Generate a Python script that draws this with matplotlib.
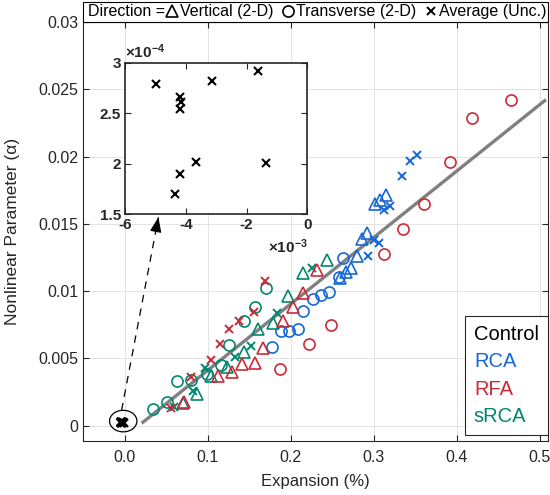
import numpy as np
import matplotlib
matplotlib.use('Agg')
import matplotlib.pyplot as plt
from matplotlib.lines import Line2D
from matplotlib.patches import Ellipse, Rectangle
from matplotlib.ticker import FuncFormatter

plt.rcParams['font.family'] = 'Liberation Sans'
plt.rcParams['axes.unicode_minus'] = False
plt.rcParams['mathtext.fontset'] = 'custom'
plt.rcParams['mathtext.rm'] = 'Liberation Sans'
plt.rcParams['mathtext.bf'] = 'Liberation Sans:bold'

# Expansion (%) / nonlinear parameter
# RCA
rca_vert_x = [0.2594, 0.2663, 0.2723, 0.2795, 0.2864, 0.2924, 0.3016, 0.3076, 0.3145]
rca_vert_y = [0.01094, 0.01143, 0.01168, 0.01259, 0.01390, 0.01432, 0.01644, 0.01679, 0.01711]
rca_tran_x = [0.1780, 0.1880, 0.1980, 0.2093, 0.2148, 0.2273, 0.2361, 0.2461, 0.2582, 0.2635]
rca_tran_y = [0.00583, 0.00706, 0.00706, 0.00719, 0.00854, 0.00939, 0.00970, 0.00995, 0.01106, 0.01247]
rca_avg_x = [0.2931, 0.3004, 0.3060, 0.3124, 0.3196, 0.3337, 0.3437, 0.3518]
rca_avg_y = [0.01259, 0.01378, 0.01361, 0.01600, 0.01630, 0.01859, 0.01965, 0.02015]

# RFA
rfa_vert_x = [0.0714, 0.1124, 0.1298, 0.1418, 0.1575, 0.1671, 0.1912, 0.2033, 0.2153, 0.2313]
rfa_vert_y = [0.00173, 0.00370, 0.00402, 0.00459, 0.00469, 0.00576, 0.00778, 0.00879, 0.00983, 0.01156]
rfa_tran_x = [0.1871, 0.2225, 0.2482, 0.3129, 0.3358, 0.3606, 0.3919, 0.4181, 0.4654]
rfa_tran_y = [0.00420, 0.00605, 0.00748, 0.01279, 0.01461, 0.01650, 0.01956, 0.02287, 0.02420]
rfa_avg_x = [0.0563, 0.0804, 0.1036, 0.1148, 0.1253, 0.1377, 0.1558, 0.1695]
rfa_avg_y = [0.00131, 0.00361, 0.00489, 0.00607, 0.00716, 0.00780, 0.00847, 0.01076]

# sRCA
srca_vert_x = [0.0707, 0.0867, 0.1036, 0.1237, 0.1437, 0.1606, 0.1792, 0.1967, 0.2153, 0.2442]
srca_vert_y = [0.00168, 0.00237, 0.00370, 0.00439, 0.00550, 0.00716, 0.00765, 0.00963, 0.01136, 0.01230]
srca_tran_x = [0.0346, 0.0506, 0.0635, 0.0804, 0.0988, 0.1157, 0.1257, 0.1437, 0.1566, 0.1702]
srca_tran_y = [0.00124, 0.00173, 0.00329, 0.00336, 0.00383, 0.00452, 0.00600, 0.00780, 0.00879, 0.01025]
srca_avg_x = [0.0594, 0.0819, 0.0964, 0.1325, 0.1518, 0.1840, 0.2261]
srca_avg_y = [0.00136, 0.00254, 0.00432, 0.00509, 0.00593, 0.00839, 0.01168]

# Control (average only)
ctrl_x = [-0.00499, -0.00314, -0.00163, -0.00418, -0.00416, -0.00418, -0.00366, -0.00137, -0.00420, -0.00435]
ctrl_y = [0.000279, 0.000282, 0.000292, 0.000266, 0.000261, 0.000254, 0.000202, 0.000201, 0.000190, 0.000170]

# linear fit (gray line)
fit_slope = 0.04937
fit_icept = -0.00083
fit_range = [0.022, 0.506]

blue = '#1667D6'
red = '#CC2A36'
green = '#00876F'
dark = '#262626'

fig = plt.figure(figsize=(5.5, 4.95), dpi=100)
ax = fig.add_axes([0.1513, 0.1083, 0.845, 0.8473])

fx = np.array(fit_range)
ax.plot(fx, fit_slope * fx + fit_icept, color='#808080', lw=2.4, zorder=2)

mk = dict(ls='none', fillstyle='none', zorder=3)
groups = [
    (blue, rca_vert_x, rca_vert_y, rca_tran_x, rca_tran_y, rca_avg_x, rca_avg_y),
    (green, srca_vert_x, srca_vert_y, srca_tran_x, srca_tran_y, srca_avg_x, srca_avg_y),
    (red, rfa_vert_x, rfa_vert_y, rfa_tran_x, rfa_tran_y, rfa_avg_x, rfa_avg_y),
]
for c, vx, vy, tx, ty, axx, ayy in groups:
    ax.plot(vx, vy, marker='^', ms=9, mew=1.2, color=c, **mk)
    ax.plot(tx, ty, marker='o', ms=8, mew=1.2, color=c, **mk)
    ax.plot(axx, ayy, marker='x', ms=5.5, mew=1.4, color=c, **mk)

ax.plot(ctrl_x, ctrl_y, marker='x', ms=5.5, mew=1.6, color='k', **mk)

# ellipse round the control cluster
ecx = np.mean(ctrl_x) + 0.0018
ecy = np.mean(ctrl_y) + 0.0001
ax.add_patch(Ellipse((ecx, ecy), 0.033, 0.0016, fc='none', ec='k', lw=0.9, zorder=4))

ax.set_xlim(-0.05, 0.51)
ax.set_ylim(-0.00117, 0.03)
ax.set_xticks(np.arange(0, 0.51, 0.1))
ax.set_yticks(np.arange(0, 0.0301, 0.005))
ax.xaxis.set_major_formatter(FuncFormatter(lambda v, p: f'{v:.1f}'))
ax.yaxis.set_major_formatter(FuncFormatter(lambda v, p: f'{round(v, 4):g}'))
ax.grid(True, color='#e3e3e3', lw=0.7)
ax.set_axisbelow(True)
ax.tick_params(direction='in', top=True, right=True, length=4, width=0.8,
               color=dark, labelcolor=dark, labelsize=11.5)
ax.tick_params(axis='x', pad=6)
for s in ax.spines.values():
    s.set_color(dark)
    s.set_linewidth(0.8)
ax.set_xlabel('Expansion (%)', fontsize=12, color=dark, labelpad=7)
ax.set_ylabel('Nonlinear Parameter (α)', fontsize=12.5, color=dark, labelpad=13)

# top legend (marker types) in a box sitting on the axes
box_h = 20 / 419.4
ax.add_patch(Rectangle((0, 1), 1, box_h, transform=ax.transAxes, clip_on=False,
                       fc='white', ec='k', lw=0.8, zorder=5))
ax.text(0.011, 1 + box_h / 2, 'Direction =', transform=ax.transAxes, ha='left',
        va='center', fontsize=11.5, color='k', zorder=6)
dh = [Line2D([], [], ls='none', marker='^', ms=9, mew=1.2, fillstyle='none', color='k'),
      Line2D([], [], ls='none', marker='o', ms=8, mew=1.2, fillstyle='none', color='k'),
      Line2D([], [], ls='none', marker='x', ms=5.5, mew=1.4, color='k')]
dl = ['Vertical (2-D)', 'Transverse (2-D)', 'Average (Unc.)']
leg1 = ax.legend(dh, dl, ncol=3, loc='center right', bbox_to_anchor=(1.0, 1 + box_h / 2),
                 fontsize=11.5, handlelength=0.7, handletextpad=0.15,
                 columnspacing=0.55, borderpad=0, borderaxespad=0.1, frameon=False)
leg1.set_zorder(7)
ax.add_artist(leg1)

# right legend (aggregate colours)
ah = [Line2D([], [], ls='none') for _ in range(4)]
leg2 = ax.legend(ah, ['Control', 'RCA', 'RFA', 'sRCA'], labelcolor=['k', blue, red, green],
                 loc='lower right', bbox_to_anchor=(1.0, 0.015), borderaxespad=0,
                 fontsize=14.5, handlelength=0, handletextpad=0, labelspacing=0.42,
                 borderpad=0.45, fancybox=False, edgecolor=dark, framealpha=1)
leg2.get_frame().set_linewidth(0.8)

# inset zoom on control specimens
axi = fig.add_axes([0.2273, 0.5671, 0.3315, 0.3062])
axi.plot(ctrl_x, ctrl_y, marker='x', ms=6, mew=1.5, color='k', ls='none')
axi.set_xlim(-0.006, 0)
axi.set_ylim(0.00015, 0.0003)
xt = [-0.006, -0.004, -0.002, 0]
yt = [0.00015, 0.0002, 0.00025, 0.0003]
axi.set_xticks(xt)
axi.set_xticklabels([f'{v * 1e3:g}' for v in xt], fontweight='bold')
axi.set_yticks(yt)
axi.set_yticklabels([f'{v * 1e4:g}' for v in yt], fontweight='bold')
axi.tick_params(direction='in', top=True, right=True, length=4, width=0.8,
                color=dark, labelcolor=dark, labelsize=11, pad=3)
for s in axi.spines.values():
    s.set_color(dark)
    s.set_linewidth(1.2)
axi.text(0.0, 1.01, r'$\mathbf{\times 10^{-4}}$', transform=axi.transAxes,
         ha='left', va='bottom', fontsize=11, color=dark)
axi.text(1.0, -0.15, r'$\mathbf{\times 10^{-3}}$', transform=axi.transAxes,
         ha='right', va='top', fontsize=11, color=dark)

# dashed arrow from the ellipse up to the inset
fig.canvas.draw()
tail = (ecx - 0.002, ecy + 0.0008)
head_disp = axi.transData.transform((-0.0049, 0.00015))
head = ax.transData.inverted().transform(head_disp - np.array([0, 3]))
ax.plot([tail[0], head[0]], [tail[1], head[1]], color='k', lw=0.9, ls=(0, (6, 5)), zorder=4)
back = (tail[0] + 0.93 * (head[0] - tail[0]), tail[1] + 0.93 * (head[1] - tail[1]))
ax.annotate('', xy=head, xytext=back,
            arrowprops=dict(arrowstyle='-|>,head_length=0.9,head_width=0.35',
                            color='k', lw=0.9, shrinkA=0, shrinkB=0), zorder=5)

fig.savefig('out.png', dpi=100)
